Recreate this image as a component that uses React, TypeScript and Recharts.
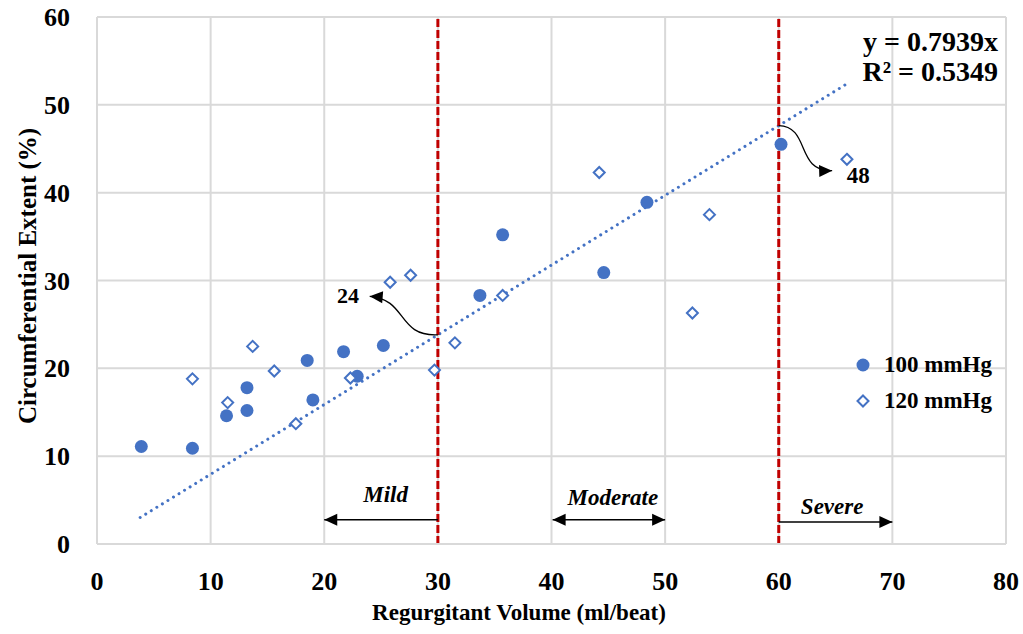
import React from "react";
import {
  CartesianGrid,
  ReferenceDot,
  ReferenceLine,
  Scatter,
  ScatterChart,
  XAxis,
  YAxis,
} from "recharts";

const BLUE = "#4472C4";
const RED = "#C00000";
const GRID = "#D9D9D9";
const FONT = "'Liberation Serif', 'Times New Roman', serif";

const X_TICKS = [0, 10, 20, 30, 40, 50, 60, 70, 80];
const Y_TICKS = [0, 10, 20, 30, 40, 50, 60];

// 100 mmHg series
const P100_X = [3.9, 8.4, 11.4, 13.2, 13.2, 18.5, 19.0, 21.7, 22.9, 25.2, 33.7, 35.7, 44.6, 48.4, 60.2];
const P100_Y = [11.1, 10.9, 14.6, 15.2, 17.8, 20.9, 16.4, 21.9, 19.1, 22.6, 28.3, 35.2, 30.9, 38.9, 45.5];

// 120 mmHg series
const P120_X = [8.4, 11.5, 13.7, 15.6, 17.5, 22.3, 25.8, 27.6, 29.7, 31.5, 35.7, 44.2, 52.4, 53.9, 66.0];
const P120_Y = [18.8, 16.1, 22.5, 19.7, 13.7, 18.9, 29.8, 30.6, 19.8, 22.9, 28.3, 42.3, 26.3, 37.5, 43.8];

// linear fit through the origin
const SLOPE = 0.7939;
const R2 = 0.5349;
const TREND_X = [3.8, 66];

// severity thresholds (ml/beat)
const THRESHOLDS = [30, 60];

const p100 = P100_X.map((x, i) => ({ x, y: P100_Y[i] }));
const p120 = P120_X.map((x, i) => ({ x, y: P120_Y[i] }));

function Circle({ cx, cy }: any) {
  return <circle cx={cx} cy={cy} r={6.5} fill={BLUE} />;
}

function Diamond({ cx, cy }: any) {
  const s = 5.5;
  return (
    <path
      d={`M${cx},${cy - s}L${cx + s},${cy}L${cx},${cy + s}L${cx - s},${cy}Z`}
      fill="#fff"
      stroke={BLUE}
      strokeWidth={2}
    />
  );
}

function head(tx: number, ty: number, fx: number, fy: number) {
  const a = Math.atan2(ty - fy, tx - fx);
  const len = 13;
  const w = 6;
  const bx = tx - len * Math.cos(a);
  const by = ty - len * Math.sin(a);
  const px = -Math.sin(a) * w;
  const py = Math.cos(a) * w;
  return `${tx},${ty} ${bx + px},${by + py} ${bx - px},${by - py}`;
}

// straight range arrow; `both` puts a head on the start too
function rangeArrow(both: boolean) {
  return (p: any) => {
    const { x1, y1, x2, y2 } = p;
    return (
      <g>
        <line x1={x1} y1={y1} x2={x2} y2={y2} stroke="#000" strokeWidth={1.5} />
        <polygon points={head(x2, y2, x1, y1)} fill="#000" />
        {both && <polygon points={head(x1, y1, x2, y2)} fill="#000" />}
      </g>
    );
  };
}

// curved callout arrow, control points given as offsets from each end
function curveArrow(c1: [number, number], c2: [number, number]) {
  return (p: any) => {
    const { x1, y1, x2, y2 } = p;
    const ax = x1 + c1[0];
    const ay = y1 + c1[1];
    const bx = x2 + c2[0];
    const by = y2 + c2[1];
    return (
      <g>
        <path
          d={`M${x1},${y1} C${ax},${ay} ${bx},${by} ${x2},${y2}`}
          fill="none"
          stroke="#000"
          strokeWidth={1.3}
        />
        <polygon points={head(x2, y2, bx, by)} fill="#000" />
      </g>
    );
  };
}

function textAt(
  value: string,
  opts: { size?: number; italic?: boolean; anchor?: "start" | "middle" | "end" } = {}
) {
  return (p: any) => (
    <text
      x={p.cx}
      y={p.cy}
      dy="0.35em"
      textAnchor={opts.anchor ?? "middle"}
      fontFamily={FONT}
      fontWeight="bold"
      fontStyle={opts.italic ? "italic" : "normal"}
      fontSize={opts.size ?? 22}
      fill="#000"
    >
      {value}
    </text>
  );
}

function XTick({ x, y, payload }: any) {
  return (
    <text x={x} y={y + 44} textAnchor="middle" fontFamily={FONT} fontWeight="bold" fontSize={26} fill="#000">
      {payload.value}
    </text>
  );
}

function YTick({ x, y, payload }: any) {
  return (
    <text x={x - 25} y={y} dy="0.35em" textAnchor="end" fontFamily={FONT} fontWeight="bold" fontSize={26} fill="#000">
      {payload.value}
    </text>
  );
}

function LegendBox() {
  const row = (label: string, icon: React.ReactNode) => (
    <div style={{ display: "flex", alignItems: "center", height: 36 }}>
      <svg width={20} height={20}>{icon}</svg>
      <span style={{ marginLeft: 11, fontFamily: FONT, fontWeight: "bold", fontSize: 23, color: "#000" }}>
        {label}
      </span>
    </div>
  );
  return (
    <div style={{ position: "absolute", left: 853, top: 347 }}>
      {row("100 mmHg", <circle cx={10} cy={10} r={6.5} fill={BLUE} />)}
      {row("120 mmHg", <path d="M10,4.5L15.5,10L10,15.5L4.5,10Z" fill="#fff" stroke={BLUE} strokeWidth={2} />)}
    </div>
  );
}

export default function App() {
  return (
    <div style={{ position: "absolute", left: 0, top: 0, width: 1023, height: 634, background: "#fff" }}>
      <ScatterChart width={1023} height={634} margin={{ top: 17, right: 17, left: 17, bottom: 30 }}>
        <CartesianGrid stroke={GRID} strokeWidth={2} />
        <XAxis
          type="number"
          dataKey="x"
          domain={[0, 80]}
          ticks={X_TICKS}
          tick={<XTick />}
          tickLine={false}
          tickSize={0}
          height={60}
          axisLine={{ stroke: GRID, strokeWidth: 2 }}
          label={{
            content: () => (
              <text x={519} y={620} textAnchor="middle" fontFamily={FONT} fontWeight="bold" fontSize={23} fill="#000">
                Regurgitant Volume (ml/beat)
              </text>
            ),
          }}
        />
        <YAxis
          type="number"
          dataKey="y"
          domain={[0, 60]}
          ticks={Y_TICKS}
          tick={<YTick />}
          tickLine={false}
          tickSize={0}
          width={80}
          axisLine={{ stroke: GRID, strokeWidth: 2 }}
          label={{
            content: () => (
              <text
                x={27}
                y={276}
                transform="rotate(-90 27 276)"
                dy="0.35em"
                textAnchor="middle"
                fontFamily={FONT}
                fontWeight="bold"
                fontSize={25}
                fill="#000"
              >
                Circumferential Extent (%)
              </text>
            ),
          }}
        />

        <ReferenceLine
          segment={[
            { x: TREND_X[0], y: SLOPE * TREND_X[0] },
            { x: TREND_X[1], y: SLOPE * TREND_X[1] },
          ]}
          stroke={BLUE}
          strokeWidth={3}
          strokeDasharray="0.01 6.5"
          strokeLinecap="round"
        />
        {THRESHOLDS.map((t) => (
          <ReferenceLine key={t} x={t} stroke={RED} strokeWidth={3} strokeDasharray="8 3" />
        ))}

        {/* severity ranges */}
        <ReferenceLine segment={[{ x: 30, y: 2.75 }, { x: 20, y: 2.75 }]} shape={rangeArrow(false)} />
        <ReferenceLine segment={[{ x: 40.1, y: 2.75 }, { x: 50, y: 2.75 }]} shape={rangeArrow(true)} />
        <ReferenceLine segment={[{ x: 60, y: 2.5 }, { x: 70, y: 2.5 }]} shape={rangeArrow(false)} />
        <ReferenceDot x={25.4} y={5.7} r={0} shape={textAt("Mild", { italic: true, size: 23 })} />
        <ReferenceDot x={45.4} y={5.36} r={0} shape={textAt("Moderate", { italic: true, size: 23 })} />
        <ReferenceDot x={64.7} y={4.33} r={0} shape={textAt("Severe", { italic: true, size: 23 })} />

        {/* fit values at the thresholds */}
        <ReferenceLine segment={[{ x: 30, y: SLOPE * 30 }, { x: 24.0, y: 28.2 }]} shape={curveArrow([-41, 2], [38, 3])} />
        <ReferenceLine segment={[{ x: 60, y: SLOPE * 60 }, { x: 64.7, y: 42.5 }]} shape={curveArrow([32, 1], [-37, 1])} />
        <ReferenceDot x={22.1} y={28.3} r={0} shape={textAt("24")} />
        <ReferenceDot x={67.0} y={42.0} r={0} shape={textAt("48", { size: 23 })} />

        <ReferenceDot x={79.3} y={57.2} r={0} shape={textAt(`y = ${SLOPE}x`, { size: 28, anchor: "end" })} />
        <ReferenceDot x={79.3} y={53.8} r={0} shape={textAt(`R² = ${R2}`, { size: 28, anchor: "end" })} />

        <Scatter name="100 mmHg" data={p100} shape={<Circle />} isAnimationActive={false} />
        <Scatter name="120 mmHg" data={p120} shape={<Diamond />} isAnimationActive={false} />
      </ScatterChart>
      <LegendBox />
    </div>
  );
}
